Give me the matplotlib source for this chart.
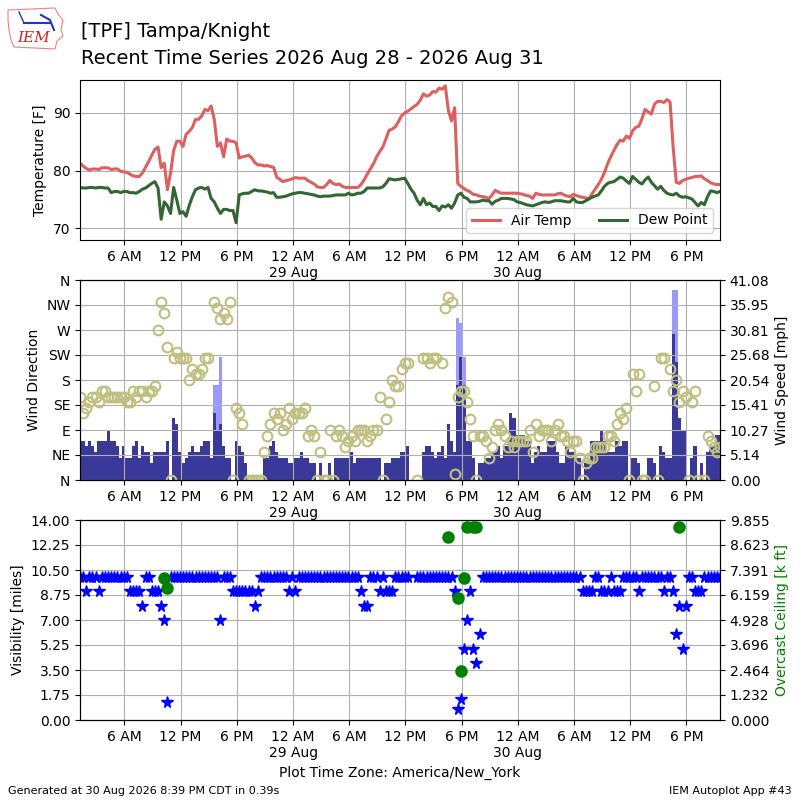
import matplotlib
matplotlib.use("Agg")
import matplotlib.pyplot as plt
import numpy as np
import pandas as pd

nan = np.nan

# observation times, every 20 minutes (America/New_York)
times = pd.date_range("2026-08-28 01:15", periods=206, freq="20min")

# air temperature [F]
tmpf = [
    81.3, 80.8, 80.4, 80.1, 80.3, 80.3, 80.2, 80.5, 80.5, 80.5,
    80.2, 80.3, 80.3, 79.9, 79.8, 79.7, 79.4, 79.1, 79.0, 79.0,
    79.6, 80.6, 81.6, 82.7, 83.7, 84.1, 80.5, 81.3, 76.7, 79.6,
    83.5, 85.1, 85.1, 84.2, 86.3, 86.8, 87.5, 88.9, 88.9, 89.5,
    90.6, 90.4, 91.2, 88.9, 84.2, 84.8, 82.4, 85.5, 85.1, 85.1,
    84.8, 82.2, 82.4, 82.5, 82.7, 82.2, 81.4, 81.0, 81.0, 80.8,
    80.9, 80.7, 80.6, 78.9, 78.5, 78.1, 78.3, 78.4, 78.6, 78.8,
    78.7, 78.7, 78.7, 78.3, 78.0, 77.7, 77.2, 77.1, 77.1, 77.6,
    78.3, 77.8, 77.6, 77.7, 77.3, 77.1, 77.1, 77.1, 77.1, 77.1,
    77.6, 78.4, 79.4, 80.3, 81.2, 82.4, 83.3, 84.1, 85.5, 87.0,
    87.2, 87.6, 88.5, 89.5, 90.0, 90.3, 90.7, 91.1, 91.5, 92.2,
    93.3, 92.9, 93.1, 93.7, 93.6, 94.3, 94.1, 94.7, 90.4, 88.6,
    90.9, 77.8, 77.3, 76.9, 76.6, 76.3, 75.9, 75.8, 75.6, 75.5,
    75.4, 75.2, 75.8, 76.6, 76.3, 76.1, 76.1, 76.1, 76.1, 76.1,
    76.1, 76.0, 75.9, 75.7, 75.6, 75.2, 76.1, 75.9, 75.8, 75.8,
    75.8, 75.8, 75.8, 76.0, 76.1, 75.8, 75.6, 75.5, 75.9, 75.7,
    75.5, 75.4, 75.3, 75.1, 76.0, 76.8, 77.6, 78.5, 79.7, 81.2,
    82.4, 83.5, 84.5, 85.3, 85.1, 86.0, 85.6, 86.9, 87.5, 87.7,
    89.0, 90.6, 90.2, 89.8, 91.5, 92.0, 92.0, 91.8, 92.3, 91.9,
    84.0, 78.0, 77.8, 78.3, 78.5, 78.7, 78.8, 79.0, 79.0, 79.1,
    78.6, 78.3, 77.9, 77.7, 77.6, 77.6,
]

# dew point [F]
dwpf = [
    77.1, 77.0, 77.0, 77.1, 77.1, 77.0, 77.1, 77.1, 77.0, 77.0,
    76.2, 76.4, 76.4, 76.2, 76.4, 76.4, 76.2, 76.2, 76.1, 76.4,
    76.8, 77.0, 77.4, 77.8, 78.1, 77.0, 71.6, 74.6, 73.9, 72.6,
    77.1, 74.9, 72.6, 72.9, 72.1, 74.0, 75.5, 76.7, 77.0, 77.1,
    76.8, 77.1, 75.2, 74.6, 73.5, 72.6, 73.3, 73.3, 73.1, 73.1,
    71.0, 75.8, 76.0, 76.1, 76.1, 76.4, 76.7, 76.5, 76.5, 76.4,
    76.3, 76.1, 76.2, 75.4, 75.4, 75.5, 75.6, 75.8, 76.0, 76.1,
    76.2, 76.2, 76.1, 76.0, 75.9, 75.8, 75.6, 75.5, 75.6, 75.6,
    75.6, 75.7, 75.8, 75.8, 75.8, 75.8, 76.1, 75.8, 75.9, 76.1,
    76.1, 76.4, 77.0, 77.0, 77.0, 77.0, 77.0, 77.2, 77.8, 78.6,
    78.5, 78.4, 78.5, 78.6, 78.7, 77.8, 76.8, 76.1, 74.9, 74.1,
    75.2, 74.1, 74.4, 73.8, 73.8, 73.1, 73.9, 73.7, 74.1, 73.5,
    74.4, 75.8, 76.1, 75.4, 75.2, 74.6, 74.6, 74.6, 74.7, 74.9,
    74.8, 74.8, 74.2, 74.7, 74.9, 75.2, 75.2, 75.2, 75.1, 75.0,
    74.6, 74.5, 74.3, 74.1, 74.0, 73.9, 74.1, 74.3, 74.5, 74.6,
    74.5, 74.6, 74.8, 74.8, 74.8, 74.7, 74.6, 74.6, 75.2, 74.6,
    74.5, 74.5, 74.8, 75.1, 75.4, 75.6, 75.8, 76.5, 77.3, 77.8,
    78.0, 78.1, 78.5, 78.9, 78.7, 78.2, 77.8, 79.0, 78.5, 78.0,
    77.7, 78.4, 78.9, 78.0, 77.4, 76.8, 77.3, 76.6, 76.1, 75.9,
    75.8, 76.1, 75.6, 75.4, 75.5, 75.3, 75.1, 74.5, 73.9, 74.5,
    74.1, 75.5, 76.5, 76.4, 76.2, 76.4,
]

# wind direction [deg], 0 = calm
drct = [
    150, 120, 130, 140, 150, 150, 140, 160, 160, 150,
    150, 150, 150, 150, 150, 140, 140, 160, 150, 160,
    160, 150, 160, 160, 170, 270, 320, 300, 240, 0,
    220, 230, 220, 220, 220, 180, 200, 190, 190, 200,
    220, 220, nan, 320, 310, 290, 300, 290, 320, 0,
    130, 120, 100, nan, 0, 0, 0, 0, 0, 50,
    80, 100, 120, 110, 120, 90, 100, 130, 110, 120,
    120, 120, 130, 80, 90, 80, 0, 50, 0, 0,
    90, 0, 80, 90, 80, 60, 70, 80, 70, 90,
    90, 90, 70, 80, 90, 90, 150, 0, 110, 140,
    180, 170, 170, 200, 210, 210, nan, nan, 0, nan,
    220, 220, 210, 220, 220, nan, 210, 310, 330, 320,
    10, 150, 160, 160, 140, 110, 80, 0, 80, 80,
    70, 40, 60, 90, 100, 90, 80, 60, 70, 60,
    70, 70, 70, 70, 90, 50, 100, 80, 90, 90,
    90, 70, 90, 100, 80, 80, 70, 50, 70, 70,
    40, 0, 30, 40, 40, 60, 60, 60, 60, 80,
    80, 70, 100, 120, 110, 130, 0, 190, 160, 190,
    0, 0, nan, nan, 170, 0, 220, 220, nan, 200,
    160, 180, 140, 160, 150, 0, 140, 160, 0, nan,
    0, 80, 70, 60, 50, 60,
]

# wind speed [kt]
sknt = [
    7, 7, 6, 7, 6, 5, 7, 7, 7, 9,
    7, 7, 6, 4, 6, 4, 4, 6, 7, 4,
    6, 5, 5, 3, 5, 5, 5, 5, 7, 0,
    11, 10, 5, 3, 4, 5, 6, 5, 5, 6,
    7, 7, 4, 12, 9, 10, 6, 4, 4, 0,
    7, 6, 5, 3, 0, 0, 0, 0, 0, 4,
    4, 6, 7, 5, 4, 4, 4, 3, 3, 4,
    4, 5, 4, 4, 3, 3, 0, 3, 0, 0,
    3, 0, 4, 4, 4, 4, 4, 5, 3, 4,
    4, 4, 4, 4, 4, 4, 4, 0, 3, 3,
    4, 4, 4, 5, 5, 6, 0, 0, 0, 0,
    5, 6, 6, 5, 4, 5, 6, 4, 10, 7,
    5, 17, 22, 17, 7, 7, 4, 0, 3, 3,
    4, 4, 5, 5, 6, 4, 6, 6, 12, 11,
    8, 8, 8, 7, 7, 3, 5, 6, 5, 5,
    7, 7, 7, 5, 3, 3, 6, 5, 5, 4,
    4, 0, 3, 3, 7, 7, 7, 9, 7, 5,
    5, 5, 7, 6, 7, 7, 0, 4, 4, 3,
    0, 0, 4, 4, 3, 0, 6, 5, 4, 4,
    26, 21, 11, 9, 9, 0, 4, 6, 0, 3,
    0, 5, 6, 6, 8, 8,
]

# wind gusts [kt], only reported at a few obs
gust_idx = [43, 44, 45, 121, 122, 123, 190, 191]
gust_kt = [17, 17, 22, 29, 28, 22, 34, 34]

# visibility [miles]
vsby = [
    10, 10, 9, 10, 10, 10, 9, 10, 10, 10,
    10, 10, 10, 10, 10, 10, 9, 9, 9, 9,
    8, 10, 10, 9, 9, 9, 8, 7, 1.25, 10,
    10, 10, 10, 10, 10, 10, 10, 10, 10, 10,
    10, 10, 10, 10, 10, 7, 10, 10, 10, 9,
    9, 9, 9, 9, 9, 9, 8, 9, 10, 10,
    10, 10, 10, 10, 10, 10, 10, 9, 10, 9,
    10, 10, 10, 10, 10, 10, 10, 10, 10, 10,
    10, 10, 10, 10, 10, 10, 10, 10, 10, 10,
    9, 8, 8, 10, 10, 10, 9, 10, 9, 9,
    9, 10, 10, 10, 10, 10, nan, nan, 10, 10,
    10, 10, 10, 10, 10, 10, 10, 10, 10, 10,
    9, 0.75, 1.5, 5, 7, 9, 5, 4, 6, 10,
    10, 10, 10, 10, 10, 10, 10, 10, 10, 10,
    10, 10, 10, 10, 10, 10, 10, 10, 10, 10,
    10, 10, 10, 10, 10, 10, 10, 10, 10, 10,
    10, 9, 9, 9, 9, 10, 10, 9, 9, 9,
    10, 9, 9, 9, 10, 10, 10, 10, 10, 9,
    10, 10, 10, 10, 10, 10, 10, 9, 10, 10,
    9, 6, 8, 5, 8, 10, 10, 9, 9, 9,
    10, 10, 10, 10, 10, 10,
]

# overcast ceiling [k ft]
ceil_idx = [27, 28, 118, 121, 122, 123, 124, 126, 127, 192]
ceil_kft = [7.0, 6.5, 9.0, 6.0, 2.4, 7.0, 9.5, 9.5, 9.5, 9.5]

assert len(tmpf) == len(dwpf) == len(drct) == len(sknt) == len(vsby) == len(times)

KT2MPH = 1.15078
smph = np.array(sknt, dtype=float) * KT2MPH
gmph = np.full(len(times), nan)
gmph[gust_idx] = np.array(gust_kt) * KT2MPH
ceiling = np.full(len(times), nan)
ceiling[ceil_idx] = ceil_kft

tick_times = pd.date_range("2026-08-28 06:00", "2026-08-30 18:00", freq="6h")
tick_labels = []
for t in tick_times:
    lbl = "%d %s" % (12 if t.hour % 12 == 0 else t.hour % 12, "AM" if t.hour < 12 else "PM")
    if t.hour == 0:
        lbl += "\n%d %s" % (t.day, t.strftime("%b"))
    tick_labels.append(lbl)


def fix_xaxis(ax):
    ax.set_xlim(times[0], times[-1])
    ax.set_xticks(tick_times)
    ax.set_xticklabels(tick_labels)
    ax.grid(True)


fig = plt.figure(figsize=(8, 8), dpi=100)

# IEM logo-ish mark
iowa = [(8, 10), (55, 8), (58, 14), (63, 20), (61, 30), (63, 36), (57, 41), (55, 49),
        (14, 47), (11, 40), (9, 30), (8, 20)]
fig.patches.append(plt.Polygon([(x / 800, 1 - y / 800) for x, y in iowa], closed=True,
                               fill=False, ec="#f08080", lw=0.8, transform=fig.transFigure))
fig.lines.append(plt.Line2D([24 / 800, 50 / 800], [1 - 23 / 800, 1 - 23 / 800],
                            color="#2233cc", lw=1.5, transform=fig.transFigure))
fig.lines.append(plt.Line2D([19 / 800, 24 / 800], [1 - 12 / 800, 1 - 23 / 800],
                            color="#2233cc", lw=1.0, transform=fig.transFigure))
fig.lines.append(plt.Line2D([41 / 800, 50 / 800, 54 / 800], [1 - 15 / 800, 1 - 20 / 800, 1 - 30 / 800],
                            color="#2233cc", lw=1.5, transform=fig.transFigure))
fig.text(0.021, 0.948, "IEM", color="#d62020", fontsize=11, family="serif", style="italic")

fig.text(0.101, 0.954, "[TPF] Tampa/Knight", fontsize=14)
fig.text(0.101, 0.920, "Recent Time Series 2026 Aug 28 - 2026 Aug 31", fontsize=14)

# temperature panel
ax1 = fig.add_axes([0.1, 0.7, 0.8, 0.2])
ax1.plot(times, tmpf, color="#dd5f5f", lw=2.2, label="Air Temp")
ax1.plot(times, dwpf, color="#336633", lw=2.2, label="Dew Point")
ax1.set_ylim(min(dwpf) - 3, max(tmpf) + 1)
ax1.set_yticks([70, 80, 90])
ax1.set_ylabel("Temperature [F]")
fix_xaxis(ax1)
ax1.legend(loc="lower right", ncol=2)

# wind panel
ax2 = fig.add_axes([0.1, 0.4, 0.8, 0.25])
ax2b = ax2.twinx()
width = 20.0 / 1440.0
ax2b.bar(times, gmph, width=width, color="#9999ff")
ax2b.bar(times, smph, width=width, color="#3a3898")
ax2b.set_ylim(0, 41.082)
ax2b.set_yticks(np.linspace(0, 41.082, 9))
ax2b.set_yticklabels(["%.2f" % v for v in np.linspace(0, 41.082, 9)])
ax2b.set_ylabel("Wind Speed [mph]")
ax2.plot(times, drct, "o", mfc="none", mec="#bfbf80", ms=7, mew=1.5)
ax2.set_ylim(0, 360)
ax2.set_yticks(range(0, 361, 45))
ax2.set_yticklabels(["N", "NE", "E", "SE", "S", "SW", "W", "NW", "N"])
ax2.set_ylabel("Wind Direction")
ax2.set_zorder(ax2b.get_zorder() + 1)
ax2.patch.set_visible(False)
fix_xaxis(ax2)

# visibility / ceiling panel
ax3 = fig.add_axes([0.1, 0.1, 0.8, 0.25])
ax3.plot(times, vsby, "*", color="b", ms=8.5, ls="none")
ax3.set_ylim(0, 14)
ax3.set_yticks(np.linspace(0, 14, 9))
ax3.set_yticklabels(["%.2f" % v for v in np.linspace(0, 14, 9)])
ax3.set_ylabel("Visibility [miles]")
fix_xaxis(ax3)
ax3b = ax3.twinx()
ax3b.plot(times, ceiling, "o", color="g", ms=8, ls="none")
ax3b.set_ylim(0, 9.8551)
ax3b.set_yticks(np.linspace(0, 9.8551, 9))
ax3b.set_yticklabels(["%.3f" % v for v in np.linspace(0, 9.8551, 9)])
ax3b.set_ylabel("Overcast Ceiling [k ft]", color="g")
ax3.set_xlabel("Plot Time Zone: America/New_York")

fig.text(0.01, 0.008, "Generated at 30 Aug 2026 8:39 PM CDT in 0.39s", fontsize=8)
fig.text(0.99, 0.008, "IEM Autoplot App #43", fontsize=8, ha="right")

fig.savefig("out.png", dpi=100)
